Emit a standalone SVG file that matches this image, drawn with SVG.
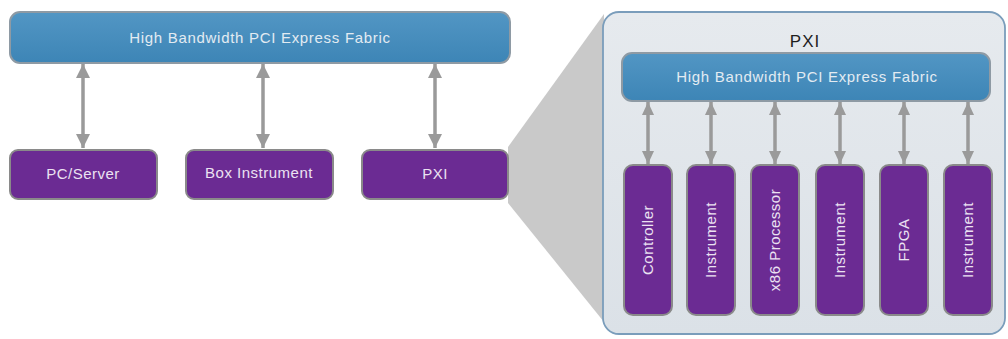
<svg xmlns="http://www.w3.org/2000/svg" width="1008" height="339" viewBox="0 0 1008 339">
<defs>
<linearGradient id="gBlue" x1="0" y1="0" x2="0" y2="1">
<stop offset="0" stop-color="#5296c4"/>
<stop offset="1" stop-color="#3d85b6"/>
</linearGradient>
<linearGradient id="gPanel" x1="0" y1="0" x2="0" y2="1">
<stop offset="0" stop-color="#e6eaee"/>
<stop offset="1" stop-color="#dbe1e7"/>
</linearGradient>
<marker id="ah" viewBox="0 0 14 14" refX="14" refY="7" markerWidth="14" markerHeight="14" markerUnits="userSpaceOnUse" orient="auto-start-reverse">
<path d="M0,0 L14,7 L0,14 Z" fill="#9a9a9a"/>
</marker>
<marker id="ahs" viewBox="0 0 13 12" refX="13" refY="6" markerWidth="13" markerHeight="12" markerUnits="userSpaceOnUse" orient="auto-start-reverse">
<path d="M0,0 L13,6 L0,12 Z" fill="#9a9a9a"/>
</marker>
</defs>
<style>
.fabric{fill:url(#gBlue);stroke:#8e9aa4;stroke-width:2}
.mod{fill:#6b2b93;stroke:#8a8a8a;stroke-width:2}
.ft{font-family:"Liberation Sans",Arial,sans-serif;font-size:15px;letter-spacing:0.7px;fill:#e2ebf2;text-anchor:middle}
.mt{font-family:"Liberation Sans",Arial,sans-serif;font-size:15px;letter-spacing:0.5px;fill:#ebe2f2;text-anchor:middle}
.conn{stroke:#9a9a9a;stroke-width:3.5;fill:none}
</style>
<rect width="1008" height="339" fill="#ffffff"/>

<g id="zoom-funnel">
<polygon points="508,147 604,14 604,322 508,203" fill="#c9c9c9"/>
</g>

<g id="pxi-chassis">
<rect x="603" y="12" width="402" height="322" rx="16" fill="url(#gPanel)" stroke="#7a9dbb" stroke-width="1.8"/>
<text x="805" y="47" font-family="'Liberation Sans',Arial,sans-serif" font-size="17" letter-spacing="1" fill="#1e1e1e" text-anchor="middle">PXI</text>
</g>

<g id="connectors">
<line class="conn" x1="83" y1="64" x2="83" y2="148" marker-start="url(#ah)" marker-end="url(#ah)"/>
<line class="conn" x1="263" y1="64" x2="263" y2="148" marker-start="url(#ah)" marker-end="url(#ah)"/>
<line class="conn" x1="435" y1="64" x2="435" y2="148" marker-start="url(#ah)" marker-end="url(#ah)"/>
<line class="conn" x1="648" y1="102" x2="648" y2="164" marker-start="url(#ahs)" marker-end="url(#ahs)"/>
<line class="conn" x1="711" y1="102" x2="711" y2="164" marker-start="url(#ahs)" marker-end="url(#ahs)"/>
<line class="conn" x1="775" y1="102" x2="775" y2="164" marker-start="url(#ahs)" marker-end="url(#ahs)"/>
<line class="conn" x1="840" y1="102" x2="840" y2="164" marker-start="url(#ahs)" marker-end="url(#ahs)"/>
<line class="conn" x1="904" y1="102" x2="904" y2="164" marker-start="url(#ahs)" marker-end="url(#ahs)"/>
<line class="conn" x1="968" y1="102" x2="968" y2="164" marker-start="url(#ahs)" marker-end="url(#ahs)"/>
</g>

<g id="fabric-top">
<rect class="fabric" x="10" y="12" width="500" height="51" rx="10"/>
<text class="ft" x="260" y="43">High Bandwidth PCI Express Fabric</text>
</g>

<g id="pc-server">
<rect class="mod" x="10" y="150" width="147" height="49" rx="8"/>
<text class="mt" x="83" y="179">PC/Server</text>
</g>
<g id="box-instrument">
<rect class="mod" x="186" y="150" width="147" height="49" rx="8"/>
<text class="mt" x="259" y="178">Box Instrument</text>
</g>
<g id="pxi">
<rect class="mod" x="362" y="150" width="146" height="49" rx="8"/>
<text class="mt" x="435" y="179">PXI</text>
</g>

<g id="fabric-inner">
<rect class="fabric" x="622" y="53" width="368" height="48" rx="10"/>
<text class="ft" x="807" y="82">High Bandwidth PCI Express Fabric</text>
</g>

<g id="controller">
<rect class="mod" x="624" y="165" width="48" height="150" rx="9"/>
<text class="mt" transform="translate(653,240) rotate(-90)">Controller</text>
</g>
<g id="instrument-1">
<rect class="mod" x="687" y="165" width="48" height="150" rx="9"/>
<text class="mt" transform="translate(716,240) rotate(-90)">Instrument</text>
</g>
<g id="x86-processor">
<rect class="mod" x="751" y="165" width="48" height="150" rx="9"/>
<text class="mt" transform="translate(780,240) rotate(-90)">x86 Processor</text>
</g>
<g id="instrument-2">
<rect class="mod" x="816" y="165" width="48" height="150" rx="9"/>
<text class="mt" transform="translate(845,240) rotate(-90)">Instrument</text>
</g>
<g id="fpga">
<rect class="mod" x="880" y="165" width="48" height="150" rx="9"/>
<text class="mt" transform="translate(909,240) rotate(-90)">FPGA</text>
</g>
<g id="instrument-3">
<rect class="mod" x="944" y="165" width="48" height="150" rx="9"/>
<text class="mt" transform="translate(973,240) rotate(-90)">Instrument</text>
</g>
</svg>
